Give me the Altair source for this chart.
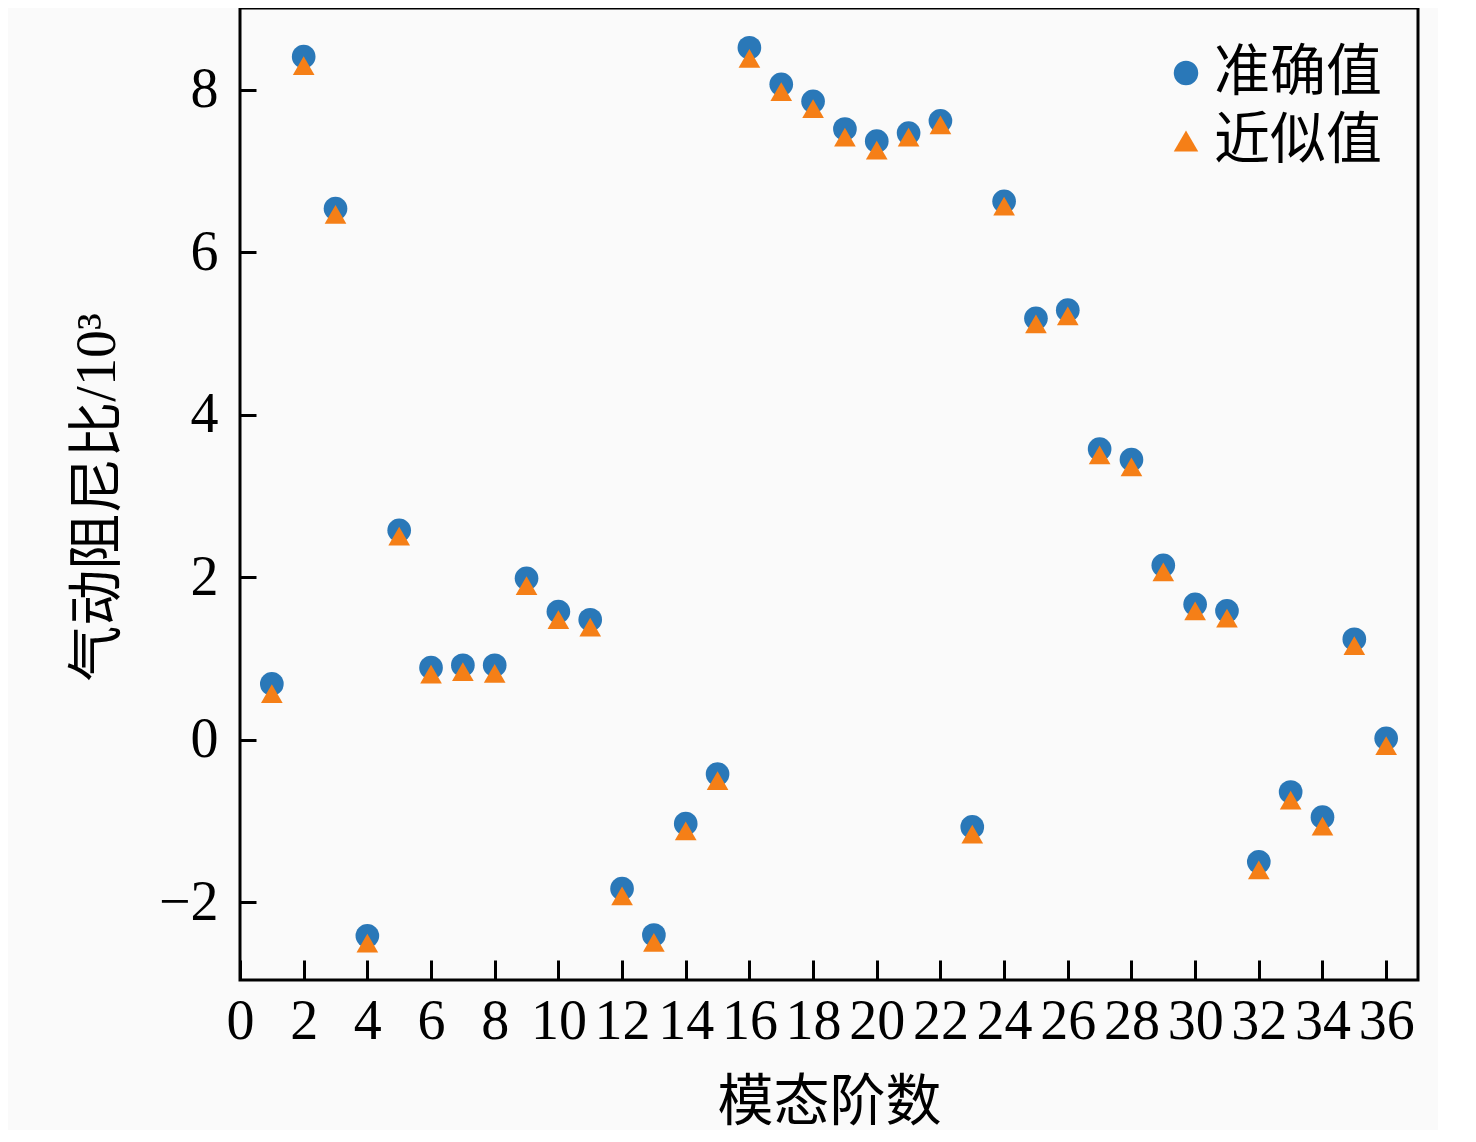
import altair as alt
import pandas as pd

modes = list(range(1, 37))
exact = [0.69, 8.41, 6.54, -2.41, 2.58, 0.89, 0.92, 0.92, 1.99, 1.58, 1.48, -1.83,
         -2.40, -1.03, -0.42, 8.52, 8.07, 7.86, 7.52, 7.37, 7.47, 7.62, -1.07, 6.63,
         5.19, 5.29, 3.58, 3.45, 2.15, 1.67, 1.59, -1.50, -0.64, -0.95, 1.24, 0.02]
approx = [0.57, 8.30, 6.47, -2.50, 2.51, 0.81, 0.84, 0.82, 1.90, 1.48, 1.39, -1.92,
          -2.49, -1.12, -0.50, 8.39, 7.98, 7.77, 7.42, 7.26, 7.42, 7.57, -1.16, 6.57,
          5.12, 5.22, 3.51, 3.36, 2.07, 1.59, 1.50, -1.60, -0.74, -1.06, 1.16, -0.07]
series_names = ["准确值", "近似值"]
x_ticks = list(range(0, 37, 2))
y_ticks = [-2, 0, 2, 4, 6, 8]

df_exact = pd.DataFrame({"mode": modes, "value": exact, "series": series_names[0]})
df_approx = pd.DataFrame({"mode": modes, "value": approx, "series": series_names[1]})

W, H = 1178, 972
FONT = "Liberation Serif, Noto Sans CJK SC"
FS = 56

xscale = alt.Scale(domain=[0, 37], nice=False, zero=False)
yscale = alt.Scale(domain=[-2.954, 9.009], nice=False, zero=False)
color = alt.Color("series:N", scale=alt.Scale(domain=series_names, range=["#2a78b8", "#f57f17"]),
                  legend=alt.Legend(title=None, orient="none", legendX=918, legendY=37,
                                    labelFont=FONT, labelFontSize=FS, symbolSize=600,
                                    labelLimit=0, rowPadding=12, labelOffset=0,
                                    symbolStrokeWidth=0))
shape = alt.Shape("series:N", scale=alt.Scale(domain=series_names, range=["circle", "triangle-up"]))

base_exact = alt.Chart(df_exact).mark_point(filled=True, size=560, opacity=1).encode(
    x=alt.X("mode:Q", scale=xscale,
            axis=alt.Axis(orient="bottom", values=x_ticks, ticks=False, domain=False, grid=False,
                          labelFont=FONT, labelFontSize=FS, labelPadding=14, labelColor="black",
                          labelFlush=False, labelOverlap=False,
                          title="模态阶数", titleFont=FONT, titleFontSize=FS, titleFontWeight="normal",
                          titleColor="black", titleBaseline="middle", titleY=122, titleX=W / 2)),
    y=alt.Y("value:Q", scale=yscale,
            axis=alt.Axis(orient="left", values=y_ticks, ticks=False, domain=False, grid=False,
                          labelFont=FONT, labelFontSize=FS, labelPadding=22, labelColor="black",
                          labelFlush=False, labelOverlap=False,
                          title="气动阻尼比/10³", titleFont=FONT, titleFontSize=FS,
                          titleFontWeight="normal", titleColor="black", titleBaseline="middle",
                          titleAngle=270, titleX=-143, titleY=489)),
    color=color,
    shape=shape,
)

base_approx = alt.Chart(df_approx).mark_point(filled=True, size=470, opacity=1).encode(
    x=alt.X("mode:Q", scale=xscale,
            axis=alt.Axis(orient="top", values=x_ticks, ticks=True, tickSize=20, tickWidth=3,
                          tickColor="black", labels=False, domain=False, grid=False, title=None,
                          offset=-H)),
    y=alt.Y("value:Q", scale=yscale,
            axis=alt.Axis(orient="right", values=y_ticks, ticks=True, tickSize=16, tickWidth=3,
                          tickColor="black", labels=False, domain=False, grid=False, title=None,
                          offset=-W)),
    color=color,
    shape=shape,
)

chart = alt.layer(base_exact, base_approx).properties(
    width=W, height=H,
    autosize=alt.AutoSizeParams(type="none"),
    padding={"left": 232, "top": 0, "right": 20, "bottom": 150},
    background="#fafafa",
).configure_view(stroke="black", strokeWidth=3, fill="#fafafa")

chart.save("out.html", embed_options={"renderer": "svg", "actions": False})
